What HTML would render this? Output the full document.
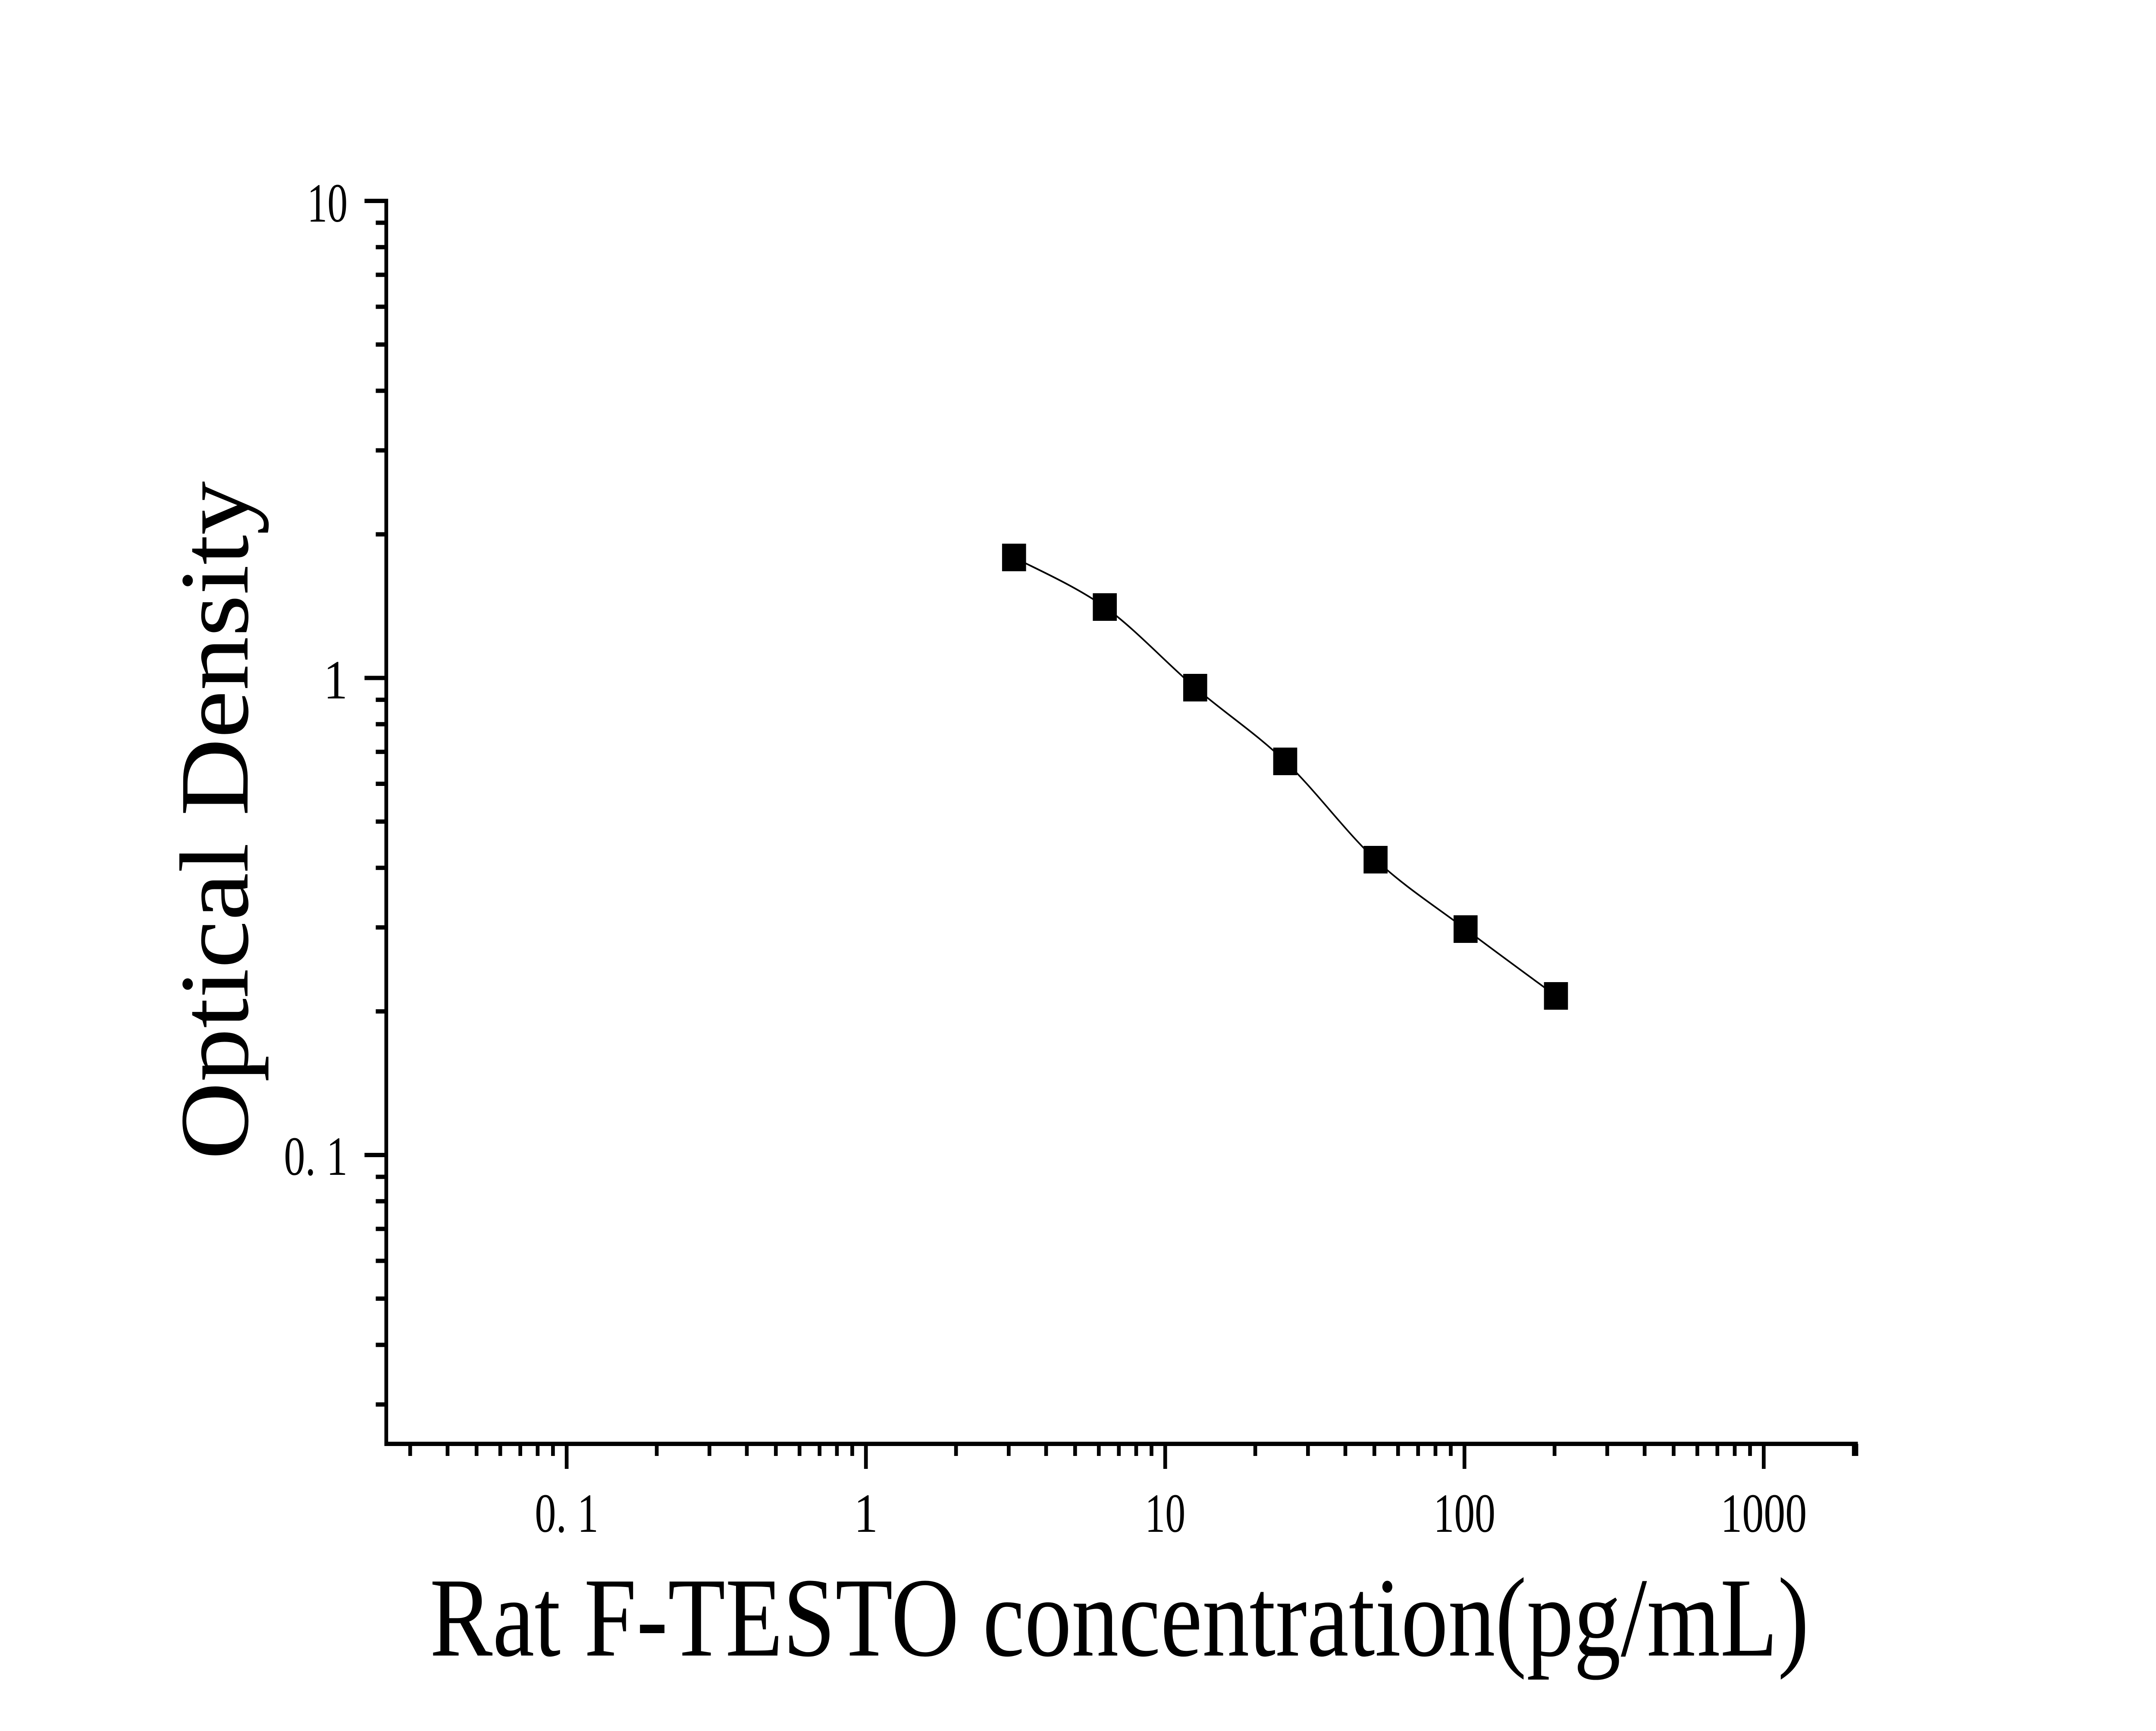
<!DOCTYPE html>
<html><head><meta charset="utf-8"><style>html,body{margin:0;padding:0;background:#fff;width:100vw;height:100vh;overflow:hidden}svg{display:block;position:absolute;left:0;top:0;width:100vw;height:100vh}</style></head>
<body>
<svg id="s" viewBox="0 0 5749 4015" preserveAspectRatio="none" xmlns="http://www.w3.org/2000/svg" font-family="'Liberation Serif', serif">
<rect width="5749" height="4015" fill="#fff"/>
<g id="ticks" stroke="#000" stroke-width="10" fill="none"></g>
<line x1="1030" y1="461" x2="1030" y2="3354" stroke="#000" stroke-width="10"/>
<line x1="1025" y1="3349" x2="4954" y2="3349" stroke="#000" stroke-width="10"/>
<g font-size="128" fill="#000">
<text x="927" y="514" text-anchor="end" textLength="108" lengthAdjust="spacingAndGlyphs">10</text>
<text x="927" y="1620" text-anchor="end">1</text>
<text x="927" y="2725" text-anchor="end" textLength="170" lengthAdjust="spacingAndGlyphs">0. 1</text>
<text x="1511" y="3553" text-anchor="middle" textLength="170" lengthAdjust="spacingAndGlyphs">0. 1</text>
<text x="2309" y="3553" text-anchor="middle">1</text>
<text x="3107" y="3553" text-anchor="middle" textLength="108" lengthAdjust="spacingAndGlyphs">10</text>
<text x="3905" y="3553" text-anchor="middle" textLength="165" lengthAdjust="spacingAndGlyphs">100</text>
<text x="4703" y="3553" text-anchor="middle" textLength="230" lengthAdjust="spacingAndGlyphs">1000</text>
</g>
<text x="1146" y="3840" font-size="262" textLength="3678" lengthAdjust="spacingAndGlyphs">Rat F-TESTO concentration(pg/mL)</text>
<text transform="translate(660,2690) rotate(-90)" font-size="262" textLength="1574" lengthAdjust="spacingAndGlyphs">Optical Density</text>
<path id="curve" fill="none" stroke="#000" stroke-width="4"/>
<g id="pts" fill="#000"></g>
</svg>
<script>
var ns="http://www.w3.org/2000/svg";
var X0=1511,XD=798,Y0=2679,YD=1106.5;
function fx(v){return X0+(Math.log10(v)+1)*XD}
function fy(v){return Y0-(Math.log10(v)+1)*YD}
var t=document.getElementById('ticks'),d="";
for(var e=-2;e<=3;e++)for(var k=1;k<10;k++){var v=k*Math.pow(10,e);var x=fx(v);if(x<1035||x>4950)continue;d+="M"+x+" 3349V"+(k==1?3407:3377);}
d+="M4950 3349V3377";
for(var e=-2;e<=1;e++)for(var k=1;k<10;k++){var v=k*Math.pow(10,e);var y=fy(v);if(y>3345||y<460)continue;d+="M1030 "+y+"H"+(k==1?972:1002);}
var p=document.createElementNS(ns,"path");p.setAttribute("d",d);t.appendChild(p);
var P=[[2704,1293],[2946,1408],[3187,1595],[3427,1766],[3668,1994],[3908,2155],[4149,2310]];
var g=document.getElementById('pts');
P.forEach(function(q){var r=document.createElementNS(ns,"rect");r.setAttribute("x",q[0]-32);r.setAttribute("y",q[1]-32);r.setAttribute("width",64);r.setAttribute("height",64);g.appendChild(r);});
var c="M"+P[0][0]+" "+P[0][1];
for(var i=0;i<P.length-1;i++){var a=P[i-1]||P[i],b=P[i],n=P[i+1],m=P[i+2]||n;
c+=" C"+(b[0]+(n[0]-a[0])/6)+" "+(b[1]+(n[1]-a[1])/6)+" "+(n[0]-(m[0]-b[0])/6)+" "+(n[1]-(m[1]-b[1])/6)+" "+n[0]+" "+n[1];}
document.getElementById('curve').setAttribute("d",c);
</script>
</body></html>
